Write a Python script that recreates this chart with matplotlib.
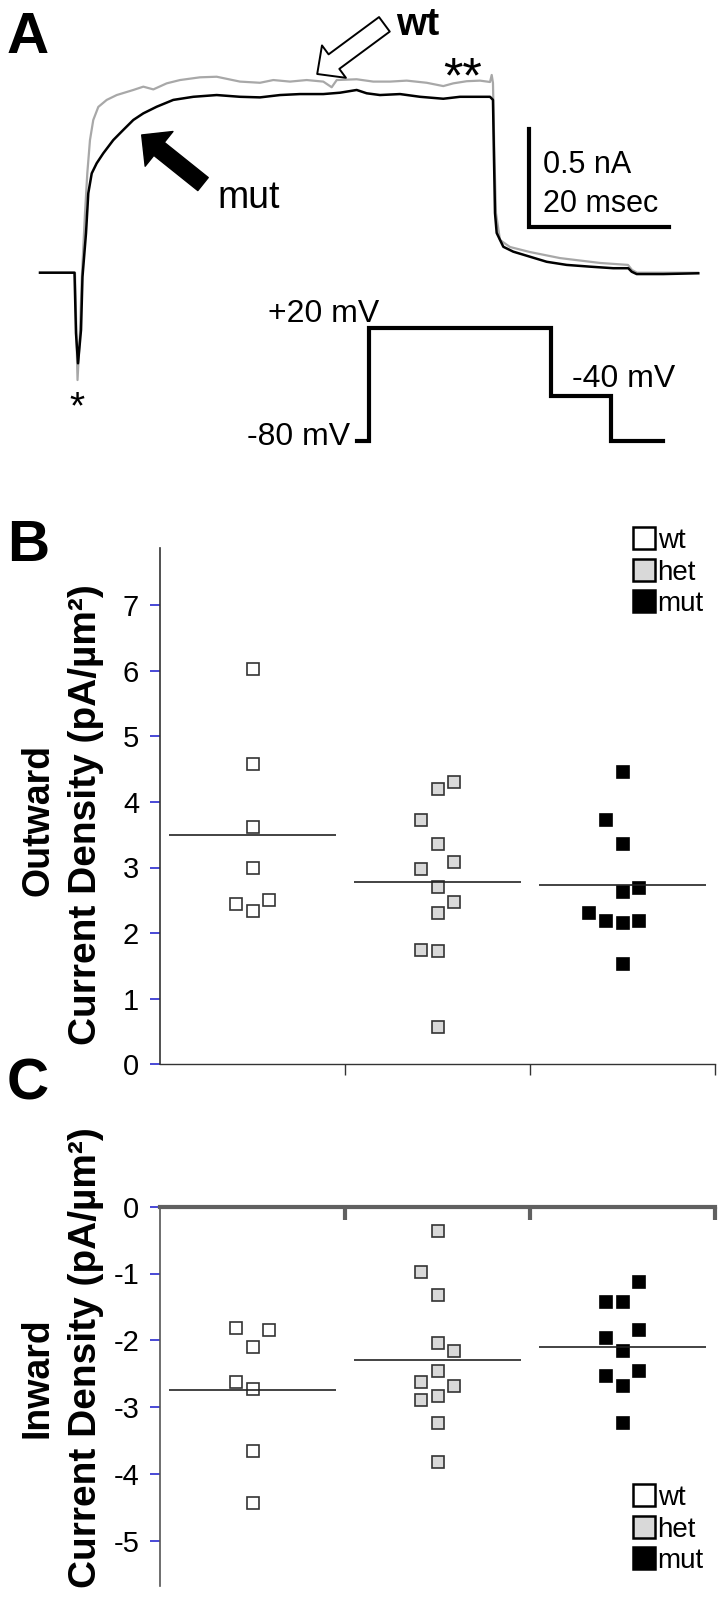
import matplotlib
matplotlib.use("Agg")
import matplotlib.pyplot as plt
from matplotlib.lines import Line2D

plt.rcParams['font.family'] = ['Liberation Sans', 'DejaVu Sans']
plt.rcParams['axes.unicode_minus'] = False

# ---- panel A: current traces (time in ms from step onset, current in nA)
wt_t = [-5.0, 0.0, 0.36, 0.71, 0.96, 1.43, 1.76, 2.14, 2.61, 3.33, 4.53, 5.96, 8.33, 9.76,
        11.19, 13.1, 15.0, 17.86, 20.24, 23.57, 26.43, 28.33, 30.71, 33.1, 35.47, 36.67,
        37.39, 40.24, 42.61, 45.0, 47.39, 50.24, 52.61, 54.04, 55.96, 57.86, 59.29, 59.53,
        59.71, 59.93, 60.14, 60.71, 62.14, 65.0, 69.29, 75.0, 79.0, 79.57, 80.29, 89.0]
wt_i = [0.0, 0.0, -0.551, -0.309, -0.037, 0.307, 0.512, 0.681, 0.784, 0.851, 0.887, 0.912,
        0.938, 0.955, 0.941, 0.972, 0.989, 1.003, 1.006, 0.981, 0.975, 0.989, 0.981, 0.989,
        0.981, 0.952, 0.989, 0.993, 0.981, 0.981, 0.986, 0.975, 0.958, 0.972, 0.983, 0.986,
        0.979, 1.015, 0.974, 0.579, 0.306, 0.168, 0.132, 0.106, 0.075, 0.050, 0.040, 0.014,
        0.0, 0.0]
mut_t = [-5.0, -0.07, 0.14, 0.43, 0.86, 1.07, 1.57, 1.9, 2.39, 3.1, 4.04, 5.47, 6.9, 8.33,
         9.76, 11.67, 14.04, 16.9, 20.24, 23.57, 26.43, 29.29, 32.14, 35.47, 37.86, 40.24,
         41.67, 43.57, 46.43, 49.29, 52.61, 55.0, 57.86, 59.29, 59.71, 59.86, 60.0, 60.24,
         61.19, 62.61, 65.0, 67.39, 70.24, 73.57, 76.9, 79.04, 79.53, 80.24, 84.04, 89.04]
mut_i = [0.0, 0.0, -0.31, -0.465, -0.294, -0.021, 0.202, 0.408, 0.51, 0.562, 0.613, 0.681,
         0.733, 0.784, 0.818, 0.852, 0.887, 0.903, 0.912, 0.903, 0.9, 0.912, 0.917, 0.917,
         0.924, 0.938, 0.921, 0.912, 0.917, 0.903, 0.893, 0.903, 0.903, 0.903, 0.887, 0.579,
         0.306, 0.204, 0.133, 0.108, 0.082, 0.056, 0.040, 0.031, 0.023, 0.023, 0.005, -0.007,
         -0.007, -0.003]

# voltage protocol (ms, mV)
prot_t = [-4, 0, 0, 60, 60, 80, 80, 97]
prot_v = [-80, -80, 20, 20, -40, -40, -80, -80]

# ---- panels B and C
groups = ['wt', 'het', 'mut']
out_wt = [6.02, 4.58, 3.61, 3.00, 2.44, 2.34, 2.50]
out_het = [4.19, 4.31, 3.72, 3.36, 3.08, 2.97, 2.70, 2.48, 2.31, 1.75, 1.72, 0.57]
out_mut = [4.45, 3.72, 3.36, 2.69, 2.63, 2.31, 2.19, 2.16, 2.19, 1.53]
out_mean = [3.50, 2.78, 2.73]

in_wt = [-1.82, -1.85, -2.10, -2.62, -2.73, -3.65, -4.43]
in_het = [-0.37, -0.98, -1.32, -2.04, -2.16, -2.46, -2.62, -2.68, -2.84, -2.90, -3.24, -3.82]
in_mut = [-1.12, -1.43, -1.43, -1.85, -1.96, -2.16, -2.46, -2.54, -2.68, -3.24]
in_mean = [-2.75, -2.29, -2.10]

# horizontal jitter of the squares (category units)
out_dx = [[0, 0, 0, 0, -0.09, 0, 0.09],
          [0, 0.09, -0.09, 0, 0.09, -0.09, 0, 0.09, 0, -0.09, 0, 0],
          [0, -0.09, 0, 0.09, 0, -0.18, -0.09, 0, 0.09, 0]]
in_dx = [[-0.09, 0.09, 0, -0.09, 0, 0, 0],
         [0, -0.09, 0, 0, 0.09, 0, -0.09, 0.09, 0, -0.09, 0, 0],
         [0.09, -0.09, 0, 0.09, -0.09, 0, 0.09, -0.09, 0, 0]]

faces = ['white', '#d9d9d9', 'black']
edges = ['#333333', '#333333', 'black']

W, H = 720, 1598


def fx(x):
    return x / W


def fy(y):
    return 1 - y / H


fig = plt.figure(figsize=(7.2, 15.98), dpi=100)

# ---------------- panel A
axa = fig.add_axes([0, fy(460), 1, 460 / H])
axa.set_xlim((0 - 75) / 7, (720 - 75) / 7)
axa.set_ylim((272.7 - 460) / 194.8, 272.7 / 194.8)
axa.axis('off')
axa.plot(wt_t, wt_i, color='#a8a8a8', lw=1.6)
axa.plot(mut_t, mut_i, color='black', lw=1.8)
# scale bar 0.5 nA / 20 ms
axa.plot([64.86, 64.86, 84.86], [0.736, 0.236, 0.236], color='black', lw=3,
         solid_joinstyle='miter')
axa.annotate('', xy=(9.53, 0.707), xytext=(18.29, 0.455),
             arrowprops=dict(arrowstyle='simple,head_length=16,head_width=32,tail_width=12',
                             mutation_scale=1, fc='black', ec='black',
                             shrinkA=0, shrinkB=0))
axa.annotate('', xy=(34.6, 1.02), xytext=(44.2, 1.275),
             arrowprops=dict(arrowstyle='simple,head_length=15,head_width=29,tail_width=13',
                             mutation_scale=1, fc='white', ec='black', lw=1.4,
                             shrinkA=0, shrinkB=0))

axp = fig.add_axes([fx(356.7), fy(440.7), (662.8 - 356.7) / W, (440.7 - 328.3) / H])
axp.set_xlim(-4, 97)
axp.set_ylim(-80, 20)
axp.axis('off')
axp.plot(prot_t, prot_v, color='black', lw=3, clip_on=False, solid_joinstyle='miter')

fig.text(fx(7), fy(53), 'A', fontsize=42, fontweight='bold', va='baseline')
fig.text(fx(396), fy(35), 'wt', fontsize=28, fontweight='bold', va='baseline')
fig.text(fx(217), fy(208), 'mut', fontsize=27, va='baseline')
fig.text(fx(463), fy(92), '**', fontsize=36, ha='center', va='baseline')
fig.text(fx(77), fy(418), '*', fontsize=28, ha='center', va='baseline')
fig.text(fx(543), fy(173), '0.5 nA', fontsize=22, va='baseline')
fig.text(fx(543), fy(212), '20 msec', fontsize=22, va='baseline')
fig.text(fx(268), fy(322), '+20 mV', fontsize=23, va='baseline')
fig.text(fx(350), fy(445), '-80 mV', fontsize=23, ha='right', va='baseline')
fig.text(fx(572), fy(387), '-40 mV', fontsize=23, va='baseline')


# ---------------- panels B and C
def draw_points(ax, series, dxs, means):
    for k, (vals, dx) in enumerate(zip(series, dxs)):
        xs = [k + 1 + d for d in dx]
        ax.plot(xs, vals, ls='none', marker='s', ms=8.8, mfc=faces[k], mec=edges[k],
                mew=1.2, zorder=3)
        ax.hlines(means[k], k + 1 - 0.45, k + 1 + 0.45, color='#222222', lw=1.2, zorder=4)


def legend(ax, x, y):
    handles = [Line2D([], [], ls='none', marker='s', ms=16, mfc=faces[k], mec='black',
                      mew=1.8) for k in range(3)]
    ax.legend(handles, groups, loc='upper left', bbox_to_anchor=(fx(x), fy(y)),
              bbox_transform=fig.transFigure, frameon=False, borderpad=0,
              borderaxespad=0, handlelength=0.75, handletextpad=0.1, labelspacing=0.2,
              fontsize=20)


axb = fig.add_axes([fx(160), fy(1064.3), (715 - 160) / W, (1064.3 - 548) / H])
axb.set_xlim(0.5, 3.5)
axb.set_ylim(0, (1064.3 - 548) / 65.6)
draw_points(axb, [out_wt, out_het, out_mut], out_dx, out_mean)
axb.spines['top'].set_visible(False)
axb.spines['right'].set_visible(False)
axb.spines['left'].set_color('#333333')
axb.spines['left'].set_linewidth(1.2)
axb.spines['bottom'].set_color('#333333')
axb.spines['bottom'].set_linewidth(1.0)
axb.set_yticks(range(0, 8))
axb.set_xticks([1.5, 2.5, 3.5])
axb.set_xticklabels([])
axb.tick_params(axis='y', length=7, width=1.2, color='#2a2ad0', labelsize=21, pad=8)
axb.tick_params(axis='x', length=8, width=1.0, color='#333333')
legend(axb, 634, 528)

axc = fig.add_axes([fx(160), fy(1586), (715 - 160) / W, (1586 - 1206.7) / H])
axc.set_xlim(0.5, 3.5)
axc.set_ylim(-(1586 - 1206.7) / 66.8, 0)
draw_points(axc, [in_wt, in_het, in_mut], in_dx, in_mean)
axc.spines['bottom'].set_visible(False)
axc.spines['right'].set_visible(False)
axc.spines['left'].set_color('#555555')
axc.spines['left'].set_linewidth(1.2)
axc.spines['top'].set_color('#606060')
axc.spines['top'].set_linewidth(3)
axc.xaxis.tick_top()
axc.set_xticks([1.5, 2.5, 3.5])
axc.set_xticklabels([])
axc.set_yticks(range(-5, 1))
axc.tick_params(axis='y', length=7, width=1.2, color='#2a2ad0', labelsize=21, pad=8)
axc.tick_params(axis='x', direction='in', length=9, width=3, color='#606060')
legend(axc, 634, 1485)

fig.text(fx(7), fy(561), 'B', fontsize=42, fontweight='bold', va='baseline')
fig.text(fx(7), fy(1099), 'C', fontsize=42, fontweight='bold', va='baseline')
fig.text(fx(38), fy(820), 'Outward', fontsize=27, fontweight='bold', rotation=90,
         ha='center', va='center')
fig.text(fx(86), fy(815), 'Current Density (pA/µm²)', fontsize=28, fontweight='bold',
         rotation=90, ha='center', va='center')
fig.text(fx(38), fy(1378), 'Inward', fontsize=27, fontweight='bold', rotation=90,
         ha='center', va='center')
fig.text(fx(86), fy(1358), 'Current Density (pA/µm²)', fontsize=28, fontweight='bold',
         rotation=90, ha='center', va='center')

fig.savefig('out.png', dpi=100)
